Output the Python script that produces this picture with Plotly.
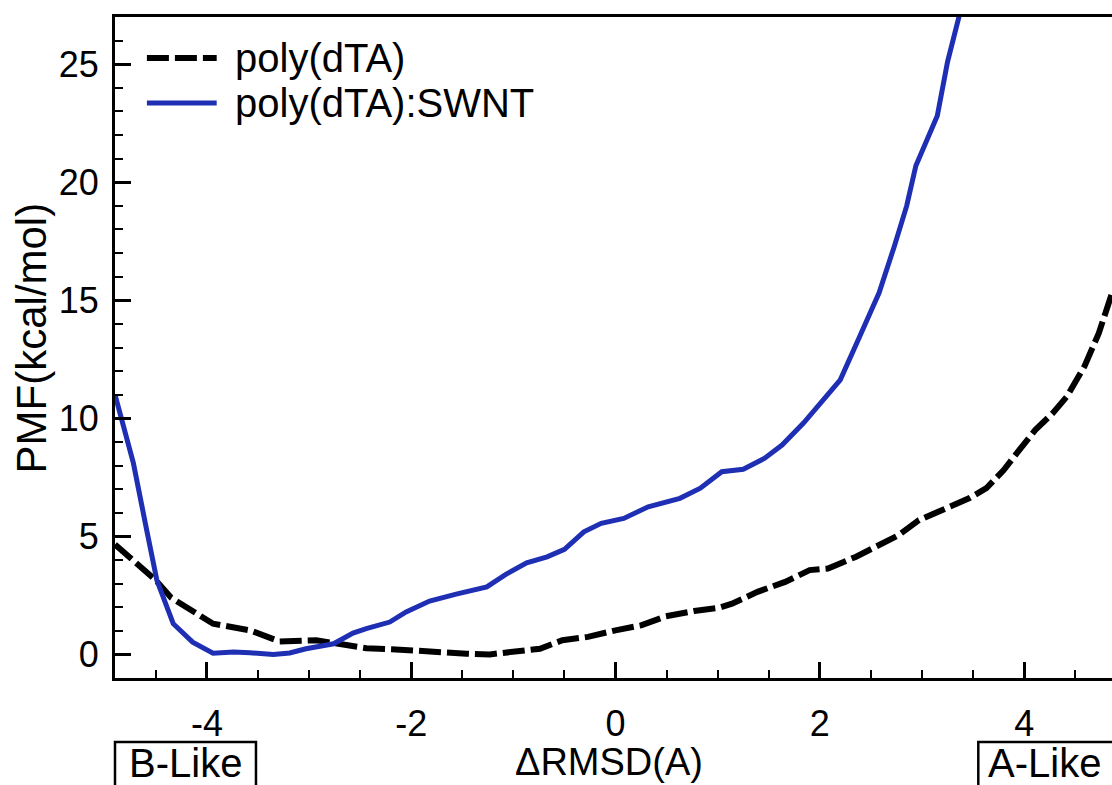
import plotly.graph_objects as go

# Potential of mean force along the RMSD difference coordinate
rmsd_dta = [-4.90, -4.50, -4.35, -3.94, -3.58, -3.29, -2.93, -2.70, -2.44, -2.11,
            -1.79, -1.46, -1.23, -0.97, -0.74, -0.52, -0.27, 0.00, 0.25, 0.49,
            0.77, 1.01, 1.14, 1.39, 1.66, 1.90, 2.08, 2.35, 2.56, 2.77,
            2.97, 3.25, 3.46, 3.63, 3.80, 3.94, 4.11, 4.28, 4.42, 4.59,
            4.73, 4.86]
pmf_dta = [4.65, 3.14, 2.40, 1.30, 1.02, 0.55, 0.60, 0.45, 0.26, 0.20,
           0.10, 0.03, 0.00, 0.14, 0.24, 0.60, 0.74, 1.02, 1.23, 1.61,
           1.84, 1.97, 2.15, 2.65, 3.07, 3.57, 3.64, 4.13, 4.56, 5.05,
           5.69, 6.19, 6.61, 7.04, 7.81, 8.59, 9.51, 10.22, 10.93, 12.20,
           13.60, 15.30]

rmsd_swnt = [-4.90, -4.72, -4.59, -4.49, -4.33, -4.14, -3.94, -3.74, -3.58, -3.35,
             -3.19, -3.03, -2.76, -2.57, -2.44, -2.21, -2.05, -1.82, -1.56, -1.26,
             -1.07, -0.87, -0.67, -0.50, -0.31, -0.14, 0.08, 0.32, 0.63, 0.83,
             1.04, 1.25, 1.46, 1.63, 1.84, 2.01, 2.20, 2.39, 2.58, 2.73,
             2.85, 2.94, 3.15, 3.25, 3.37, 3.42]
pmf_swnt = [11.00, 8.10, 5.27, 3.14, 1.30, 0.52, 0.05, 0.10, 0.07, 0.00,
            0.06, 0.24, 0.45, 0.90, 1.09, 1.37, 1.80, 2.26, 2.55, 2.86,
            3.40, 3.88, 4.13, 4.45, 5.19, 5.55, 5.76, 6.25, 6.61, 7.04,
            7.74, 7.84, 8.31, 8.87, 9.80, 10.70, 11.63, 13.47, 15.32, 17.30,
            19.00, 20.70, 22.82, 25.10, 27.06, 28.00]

series_names = ["poly(dTA)", "poly(dTA):SWNT"]
x_ticks = [-4, -2, 0, 2, 4]
x_tick_text = ["-4", "-2", "0", "2", "4"]
y_ticks = [0, 5, 10, 15, 20, 25]

FONT = "Liberation Sans, Arial, Helvetica, sans-serif"
BLUE = "#1f2fb4"
DASHED = dict(color="black", width=6, dash="22px,6px")
SOLID = dict(color=BLUE, width=5)

fig = go.Figure()
fig.add_trace(go.Scatter(x=rmsd_dta, y=pmf_dta, mode="lines", name=series_names[0],
                         line=DASHED))
fig.add_trace(go.Scatter(x=rmsd_swnt, y=pmf_swnt, mode="lines", name=series_names[1],
                         line=SOLID))

axis_common = dict(
    showgrid=False, zeroline=False, showline=True, linecolor="black", linewidth=3,
    ticks="inside", tickcolor="black", tickwidth=2.5, ticklen=16,
    tickfont=dict(family=FONT, size=36, color="black"),
)
fig.update_xaxes(range=[-4.9, 4.86], tickvals=x_ticks, ticktext=x_tick_text, mirror=True,
                 minor=dict(dtick=0.5, tick0=0, ticks="inside", ticklen=8,
                            tickwidth=2, tickcolor="black"),
                 ticklabelstandoff=12, **axis_common)
fig.update_yaxes(range=[-1, 27], tickvals=y_ticks, mirror=False,
                 minor=dict(dtick=1, tick0=0, ticks="inside", ticklen=8,
                            tickwidth=2, tickcolor="black"),
                 ticklabelstandoff=6, **axis_common)

# Legend drawn as line samples plus labels in the upper-left corner
legend_rows = [(0.938, DASHED), (0.870, SOLID)]
shapes = []
annotations = []
for (yy, ln), name in zip(legend_rows, series_names):
    shapes.append(dict(type="line", xref="paper", yref="paper",
                       x0=0.032, x1=0.102, y0=yy, y1=yy, line=ln))
    annotations.append(dict(text=name, xref="paper", yref="paper", x=0.118, y=yy,
                            xanchor="left", yanchor="middle", showarrow=False,
                            font=dict(family=FONT, size=40, color="black")))

# Conformation boxes under the axis ends
for x0, x1, label, cx in [(0.0, 0.1414, "B-Like", 0.0707),
                          (0.8659, 1.2, "A-Like", 0.9318)]:
    shapes.append(dict(type="rect", xref="paper", yref="paper",
                       x0=x0, x1=x1, y0=-0.097, y1=-0.25,
                       line=dict(color="black", width=2.5), fillcolor="rgba(0,0,0,0)"))
    annotations.append(dict(text=label, xref="paper", yref="paper", x=cx, y=-0.128,
                            xanchor="center", yanchor="middle", showarrow=False,
                            font=dict(family=FONT, size=40, color="black")))

annotations.append(dict(text="ΔRMSD(A)", xref="paper", yref="paper", x=0.495, y=-0.127,
                        xanchor="center", yanchor="middle", showarrow=False,
                        font=dict(family=FONT, size=38, color="black")))
annotations.append(dict(text="PMF(kcal/mol)", xref="paper", yref="paper", x=-0.084, y=0.514,
                        xanchor="center", yanchor="middle", showarrow=False, textangle=-90,
                        font=dict(family=FONT, size=42, color="black")))

fig.update_layout(
    width=1112, height=785,
    margin=dict(l=115, r=0, t=17, b=107),
    paper_bgcolor="white", plot_bgcolor="white",
    showlegend=False,
    shapes=shapes, annotations=annotations,
)

fig.write_html("out.html")
